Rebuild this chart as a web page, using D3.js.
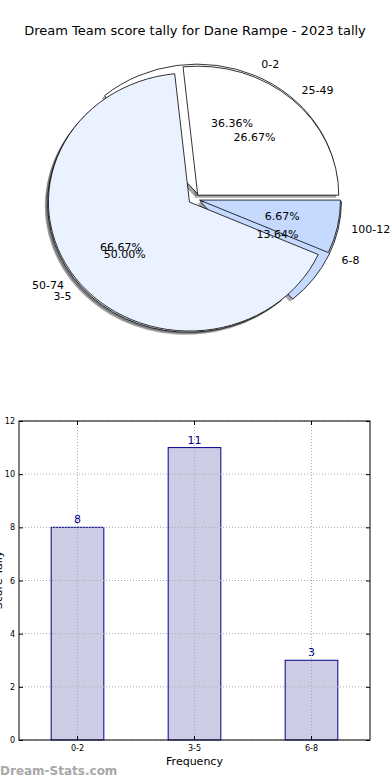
<!DOCTYPE html>
<html>
<head>
<meta charset="utf-8">
<script src="https://cdn.jsdelivr.net/npm/d3@7"></script>
<style>
  body { margin: 0; background: #fff; }
  svg { display: block; font-family: "DejaVu Sans", sans-serif; }
</style>
</head>
<body>
<svg id="chart" width="390" height="780"></svg>
<script>
// tally data
const scoreRanges = ["0-2", "3-5", "6-8"];
const scoreCounts = [8, 11, 3];
const pointRanges = ["25-49", "50-74", "100-124"];
const pointCounts = [4, 10, 1];
const sliceColors = ["#ffffff", "#ebf2ff", "#c6d9ff"];
const yTicks = [0, 2, 4, 6, 8, 10, 12];

const svg = d3.select("#chart");

svg.append("text")
  .attr("x", 195).attr("y", 35)
  .attr("text-anchor", "middle")
  .style("font-size", "13px")
  .text("Dream Team score tally for Dane Rampe - 2023 tally");

// ---- pie (two overlapping pies, like the original) ----
const cx = 194, cy = 199, rx = 141, ry = 129;
const pieGroup = svg.append("g");
const ellipse = pieGroup.append("g")
  .attr("transform", `translate(${cx},${cy}) scale(1,${ry / rx})`);
const labels = pieGroup.append("g");

const arc = d3.arc().innerRadius(0).outerRadius(rx);
// counter-clockwise from 3 o'clock
const pie = d3.pie().sort(null).startAngle(Math.PI / 2).endAngle(Math.PI / 2 - 2 * Math.PI);

const pies = [
  { names: scoreRanges, values: scoreCounts, explode: 0.05 },
  { names: pointRanges, values: pointCounts, explode: 0.04 }
];
pies.forEach(p => { p.arcs = pie(p.values); });

function offset(d, f) {
  const a = (d.startAngle + d.endAngle) / 2;
  return [f * rx * Math.sin(a), -f * rx * Math.cos(a)];
}

// shadows first, under every wedge
pies.forEach(p => {
  ellipse.selectAll(null)
    .data(p.arcs)
    .enter().append("path")
    .attr("d", arc)
    .attr("transform", d => {
      const o = offset(d, p.explode);
      return `translate(${o[0] - 0.02 * rx},${o[1] + 0.02 * rx})`;
    })
    .attr("fill", "#4d4d4d")
    .attr("fill-opacity", 0.5);
});

pies.forEach(p => {
  ellipse.selectAll(null)
    .data(p.arcs)
    .enter().append("path")
    .attr("d", arc)
    .attr("transform", d => {
      const o = offset(d, p.explode);
      return `translate(${o[0]},${o[1]})`;
    })
    .attr("fill", (d, i) => sliceColors[i])
    .attr("stroke", "#000")
    .attr("stroke-width", 0.8)
    .attr("vector-effect", "non-scaling-stroke");
});

pies.forEach(p => {
  const total = d3.sum(p.values);
  p.arcs.forEach((d, i) => {
    const a = (d.startAngle + d.endAngle) / 2;
    const sx = Math.sin(a), sy = -Math.cos(a);
    const px = (r) => cx + (r + p.explode) * rx * sx;
    const py = (r) => cy + (r + p.explode) * ry * sy;
    labels.append("text")
      .attr("x", px(0.6)).attr("y", py(0.6))
      .attr("dy", "0.35em")
      .attr("text-anchor", "middle")
      .style("font-size", "11px")
      .text((100 * p.values[i] / total).toFixed(2) + "%");
    labels.append("text")
      .attr("x", px(1.1)).attr("y", py(1.1))
      .attr("dy", "0.35em")
      .attr("text-anchor", sx >= 0 ? "start" : "end")
      .style("font-size", "11px")
      .text(p.names[i]);
  });
});

// ---- bar chart ----
const m = { left: 19, top: 421, right: 370, bottom: 740 };
const x = d3.scaleBand().domain(scoreRanges).range([m.left, m.right]).paddingInner(0).paddingOuter(0);
const y = d3.scaleLinear().domain([0, 12]).range([m.bottom, m.top]);
const barW = x.bandwidth() * 0.45;
const xc = d => x(d) + x.bandwidth() / 2;

const bars = svg.append("g");
bars.selectAll("rect")
  .data(scoreRanges)
  .enter().append("rect")
  .attr("x", d => xc(d) - barW / 2)
  .attr("y", (d, i) => y(scoreCounts[i]))
  .attr("width", barW)
  .attr("height", (d, i) => y(0) - y(scoreCounts[i]))
  .attr("fill", "#cccce5")
  .attr("stroke", "#00008b")
  .attr("stroke-width", 1);

bars.selectAll("text.val")
  .data(scoreRanges)
  .enter().append("text")
  .attr("class", "val")
  .attr("x", xc)
  .attr("y", (d, i) => y(scoreCounts[i]) - 4)
  .attr("text-anchor", "middle")
  .attr("fill", "#00008b")
  .style("font-size", "11px")
  .text((d, i) => scoreCounts[i]);

// grid on top of bars
const grid = svg.append("g")
  .attr("stroke", "#aaa").attr("stroke-dasharray", "1,2").attr("stroke-width", 1);
grid.selectAll("line.gy").data(yTicks).enter().append("line")
  .attr("x1", m.left).attr("x2", m.right)
  .attr("y1", d => y(d)).attr("y2", d => y(d));
grid.selectAll("line.gx").data(scoreRanges).enter().append("line")
  .attr("x1", xc).attr("x2", xc)
  .attr("y1", m.top).attr("y2", m.bottom);

const yAxis = svg.append("g")
  .attr("transform", `translate(${m.left},0)`)
  .call(d3.axisLeft(y).tickValues(yTicks).tickSize(-4).tickPadding(4));
const yAxisR = svg.append("g")
  .attr("transform", `translate(${m.right},0)`)
  .call(d3.axisRight(y).tickValues(yTicks).tickSize(-4).tickFormat(""));
const xAxis = svg.append("g")
  .attr("transform", `translate(0,${m.bottom})`)
  .call(d3.axisBottom(x).tickSize(-4).tickPadding(5));
const xAxisT = svg.append("g")
  .attr("transform", `translate(0,${m.top})`)
  .call(d3.axisTop(x).tickSize(-4).tickFormat(""));
[yAxis, yAxisR, xAxis, xAxisT].forEach(g => {
  g.select(".domain").remove();
  g.selectAll("text").style("font-size", "8px").style("font-family", "DejaVu Sans");
});

svg.append("rect")
  .attr("x", m.left).attr("y", m.top)
  .attr("width", m.right - m.left).attr("height", m.bottom - m.top)
  .attr("fill", "none").attr("stroke", "#000").attr("stroke-width", 1);

svg.append("text")
  .attr("x", (m.left + m.right) / 2).attr("y", 765)
  .attr("text-anchor", "middle")
  .style("font-size", "11px")
  .text("Frequency");

// y label sits mostly off the left edge, as in the original
svg.append("text")
  .attr("transform", "translate(2,580) rotate(-90)")
  .attr("text-anchor", "middle")
  .style("font-size", "11px")
  .text("Score Tally");

svg.append("text")
  .attr("x", 0).attr("y", 775)
  .attr("fill", "#a8a8a8")
  .style("font-size", "12px")
  .style("font-weight", "bold")
  .text("Dream-Stats.com");
</script>
</body>
</html>
